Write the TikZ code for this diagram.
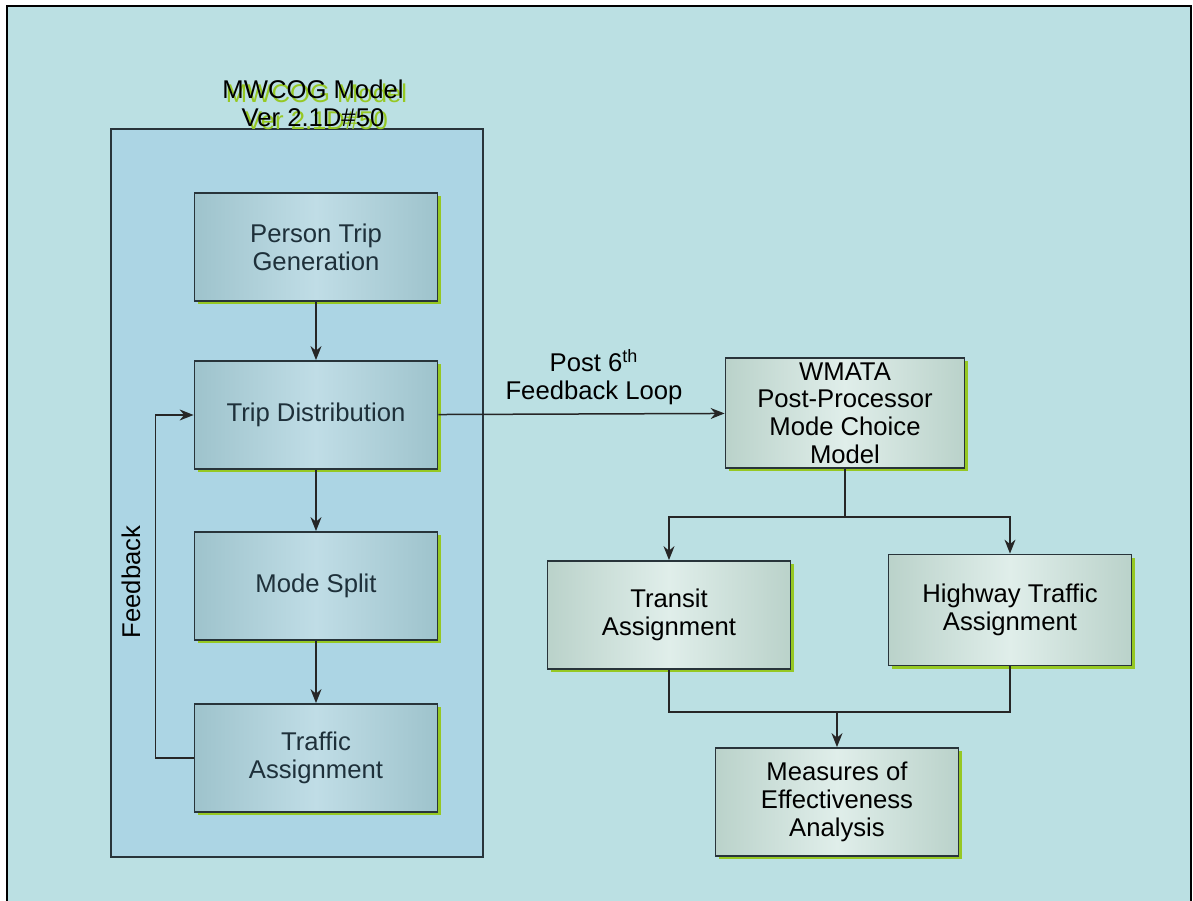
\documentclass[tikz,border=0pt]{standalone}
\usepackage{fontspec}
\setmainfont{Liberation Sans}
\usetikzlibrary{arrows.meta,shadows}
% green echo behind a line of text
\newcommand{\echoline}[1]{\makebox[0pt][l]{\kern0.7mm\raisebox{-0.7mm}{\textcolor{cshade}{#1}}}#1}

\begin{document}
\begin{tikzpicture}[x=0.2mm,y=-0.2mm,
  font=\fontsize{14.6}{15.8}\selectfont,
  stage/.style={draw=cedge,line width=0.35mm,inner sep=0pt,align=center,
    minimum width=48.6mm,minimum height=21.6mm,text=cstagetxt,
    left color=cstageout,right color=cstageout,middle color=cstagein,
    drop shadow={shadow xshift=0.7mm,shadow yshift=-0.7mm,fill=cshade,opacity=1}},
  post/.style={stage,text=black,left color=cpostout,right color=cpostout,middle color=cpostin},
  flow/.style={line width=0.3mm,draw=black!85,-{Stealth[length=2.8mm,width=2.2mm]}},
  link/.style={line width=0.3mm,draw=black!85}]
  \definecolor{cbg}{RGB}{187,224,227}
  \definecolor{cmodel}{RGB}{172,213,228}
  \definecolor{cedge}{RGB}{40,52,58}
  \definecolor{cstageout}{RGB}{158,195,204}
  \definecolor{cstagein}{RGB}{192,221,230}
  \definecolor{cstagetxt}{RGB}{30,48,58}
  \definecolor{cpostout}{RGB}{186,210,202}
  \definecolor{cpostin}{RGB}{224,238,234}
  \definecolor{cshade}{RGB}{150,200,35}
  \useasboundingbox (0,0) rectangle (1193,901);
  \clip (0,0) rectangle (1193,901);
  % page frame and model container
  \draw[line width=0.45mm,fill=cbg] (7,6) rectangle (1191,930);
  \node[draw=cedge,line width=0.3mm,fill=cmodel,inner sep=0pt,
    minimum width=74.4mm,minimum height=145.6mm] (mwcog) at (297,493) {};
  \node[align=center] (title) at (313,105) {\echoline{MWCOG Model}\\\echoline{Ver 2.1D\#50}};
  % four step model
  \node[stage] (gen) at (316,247) {Person Trip\\Generation};
  \node[stage] (dist) at (316,415) {Trip Distribution};
  \node[stage] (split) at (316,586) {Mode Split};
  \node[stage] (assign) at (316,758) {Traffic\\Assignment};
  \draw[flow] (gen) -- (dist);
  \draw[flow] (dist) -- (split);
  \draw[flow] (split) -- (assign);
  \draw[flow] (assign.west) -- ++(-38,0) |- (dist.west);
  \node[rotate=90] (fbtext) at (131,582) {Feedback};
  % post processor side
  \node[post,minimum width=47.8mm,minimum height=22mm] (wmata) at (845,413)
    {WMATA\\Post-Processor\\Mode Choice\\Model};
  \node[post] (transit) at (669,615) {Transit\\Assignment};
  \node[post,minimum height=22.2mm] (highway) at (1010,610) {Highway Traffic\\Assignment};
  \node[post] (moe) at (837,802) {Measures of\\Effectiveness\\Analysis};
  \draw[flow] (dist) -- (wmata);
  \node[align=center] (looptext) at (594,377) {Post 6\textsuperscript{th}\\Feedback Loop};
  \draw[link] (wmata.south) -- ++(0,48) coordinate (fork);
  \draw[flow] (fork) -| (transit);
  \draw[flow] (fork) -| (highway);
  \draw[link] (transit.south) -- ++(0,42) coordinate (merge) -| (highway.south);
  \draw[flow] (merge -| moe) -- (moe);
\end{tikzpicture}
\end{document}
